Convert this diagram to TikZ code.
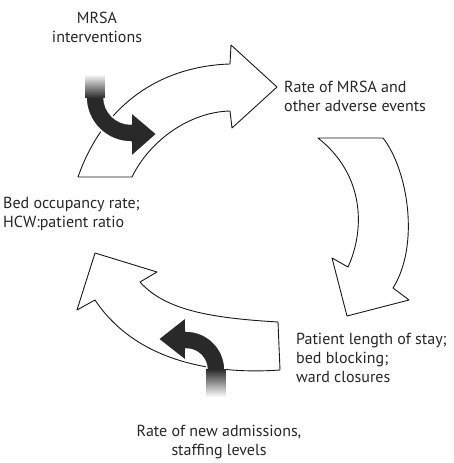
\documentclass[tikz,border=0pt]{standalone}
\usepackage{fontspec}
\setmainfont{PT Sans}
\usetikzlibrary{fadings}
\tikzfading[name=fadeup, top color=transparent!100, bottom color=transparent!0]
\tikzfading[name=fadedown, top color=transparent!0, bottom color=transparent!100]
\begin{document}
\begin{tikzpicture}[x=1pt,y=-1pt,
  bigarrow/.style={draw=black!90, line width=0.9pt, fill=white, line join=round},
  darkarrow/.style={fill=black!84, draw=white, line width=1.6pt, line join=round},
  fuzzy/.style={fill=black!84},
  lbl/.style={font=\fontsize{16}{19}\selectfont, inner sep=0pt, text=black!85}]
\useasboundingbox (0,0) rectangle (453,463);

% white curved arrows
\path[bigarrow] (78,177) -- (132,177)
  .. controls (150,140) and (190,112) .. (230,111)
  -- (232,128) -- (277,87) -- (231,45) -- (230,64)
  .. controls (165,66) and (105,100) .. (78,177) -- cycle;
\path[bigarrow] (318,138) -- (383,138)
  .. controls (408,170) and (420,245) .. (393,288)
  -- (409,300) -- (347,316) -- (332,258) -- (348,267)
  .. controls (365,230) and (365,175) .. (318,138) -- cycle;
\path[bigarrow] (278,322) -- (280,370)
  .. controls (210,375) and (135,360) .. (95,300)
  -- (77,310) -- (95,253) -- (157,272) -- (140,282)
  .. controls (165,310) and (210,318) .. (278,322) -- cycle;

% dark arrow 1 (MRSA interventions)
\path[darkarrow] (104,97) -- (86,97) arc[start angle=180, end angle=90, radius=45]
  -- (131,157) -- (157,134) -- (131,112) -- (131,124)
  arc[start angle=90, end angle=180, radius=27];
\fill[fuzzy, path fading=fadeup] (85,74) rectangle (105,98);

% dark arrow 2 (new admissions)
\path[darkarrow] (225,370) -- (207,370) arc[start angle=0, end angle=-90, radius=21]
  -- (186,361) -- (158,339) -- (186,317) -- (186,331)
  arc[start angle=-90, end angle=0, radius=39];
\fill[fuzzy, path fading=fadedown] (206,369) rectangle (226,397);

% labels
\node[lbl, align=center, anchor=north] (mrsa) at (97,12) {MRSA\\interventions};
\node[lbl, align=left, anchor=north west] (rate) at (284,81) {Rate of MRSA and\\other adverse events};
\node[lbl, align=left, anchor=north west] (bed) at (3,197) {Bed occupancy rate;\\HCW:patient ratio};
\node[lbl, align=left, anchor=north west] (stay) at (296,333) {Patient length of stay;\\bed blocking;\\ward closures};
\node[lbl, align=center, anchor=north] (adm) at (219,425) {Rate of new admissions,\\staffing levels};
\end{tikzpicture}
\end{document}
